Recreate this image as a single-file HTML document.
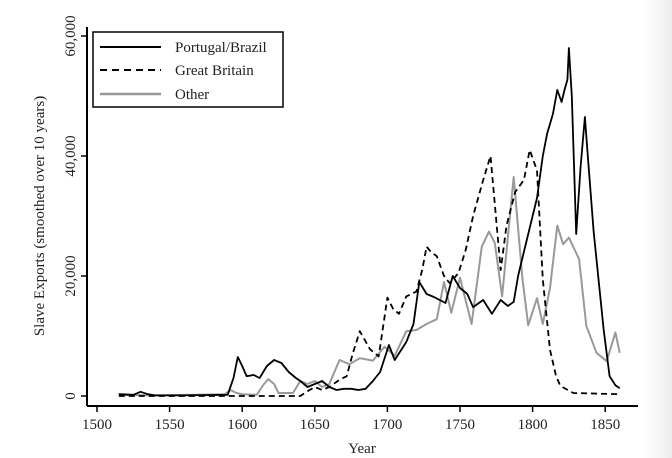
<!DOCTYPE html>
<html><head><meta charset="utf-8"><style>
html,body{margin:0;padding:0;background:#fff;}
svg{display:block;font-family:"Liberation Serif",serif;}
</style></head><body>
<svg width="672" height="458" viewBox="0 0 672 458">
<defs><linearGradient id="edge" x1="0" x2="1"><stop offset="0" stop-color="#fff"/><stop offset="1" stop-color="#ececec"/></linearGradient></defs>
<rect x="645" y="0" width="27" height="458" fill="url(#edge)"/>
<g id="axes"></g>
<g id="series"></g>
<g>
<rect x="93" y="32" width="190" height="75" fill="#fff" stroke="#000" stroke-width="1.5"/>
<line x1="100" y1="47" x2="161" y2="47" stroke="#000" stroke-width="2"/>
<text x="175" y="52" font-size="15" fill="#222">Portugal/Brazil</text>
<line x1="100" y1="70" x2="161" y2="70" stroke="#000" stroke-width="2" stroke-dasharray="7,5"/>
<text x="175" y="75" font-size="15" fill="#222">Great Britain</text>
<line x1="100" y1="94" x2="161" y2="94" stroke="#999" stroke-width="2.5"/>
<text x="175" y="99" font-size="15" fill="#222">Other</text>
</g>
</svg>
<script>
const xTicks=[1500,1550,1600,1650,1700,1750,1800,1850];
const yTicks=[0,20000,40000,60000];
const yTickLabels=["0","20,000","40,000","60,000"];
const portYears=[1515,1525,1530,1535,1540,1560,1590,1594,1597,1600,1603,1608,1612,1617,1622,1627,1632,1637,1640,1645,1650,1655,1660,1665,1670,1675,1680,1685,1690,1695,1701,1705,1713,1718,1722,1727,1732,1736,1740,1745,1750,1755,1759,1763,1766,1772,1778,1783,1787,1790,1793,1798,1803,1807,1810,1814,1817,1820,1822,1824,1825,1827,1830,1833,1836,1838,1842,1846,1849,1853,1857,1860];
const portVals=[300,200,700,300,100,100,200,3000,6500,5000,3300,3500,3000,5000,6000,5500,4000,3000,2500,1500,2000,2500,1500,1000,1200,1200,1000,1200,2500,4000,8500,6000,9000,12000,19000,17000,16500,16000,15500,20000,18000,17000,14800,15500,16000,13700,16000,15000,15700,20000,23000,28000,33000,40000,43700,47000,51000,49000,51000,52700,58000,50000,27000,38000,46500,40000,27500,18000,11000,3300,1800,1300];
const gbYears=[1515,1600,1640,1645,1650,1655,1660,1667,1672,1676,1681,1688,1694,1700,1704,1708,1713,1720,1724,1727,1730,1734,1739,1743,1749,1754,1759,1766,1771,1774,1778,1782,1788,1794,1798,1803,1807,1812,1816,1819,1828,1860];
const gbVals=[0,0,0,800,1500,1000,1500,2700,3300,7000,10800,7800,6600,16400,14500,13700,16600,17400,21000,24900,24000,23300,20000,18800,20500,24400,30000,36000,40000,32000,21000,28400,34000,36000,41000,37600,19400,7700,3500,1700,500,300];
const otherYears=[1515,1540,1570,1588,1592,1596,1600,1610,1615,1618,1622,1625,1635,1640,1645,1650,1655,1660,1667,1674,1681,1690,1698,1705,1713,1720,1727,1734,1739,1744,1750,1758,1765,1770,1774,1779,1787,1793,1797,1803,1807,1812,1817,1821,1825,1832,1837,1844,1851,1857,1860];
const otherVals=[200,100,200,300,1000,500,300,200,2000,2800,2000,500,500,2500,2000,2500,1500,2000,6000,5300,6300,5900,8200,6700,10800,11000,12000,12800,19000,13900,19700,12000,24900,27400,25500,16600,36500,19600,11800,16300,12000,18000,28400,25300,26400,22800,11700,7200,5800,10600,7200];

const NS="http://www.w3.org/2000/svg";
function X(yr){return 97+(yr-1500)*1.452;}
function Y(v){return 396-v*0.006;}
function mk(tag,attrs,parent){const e=document.createElementNS(NS,tag);for(const k in attrs)e.setAttribute(k,attrs[k]);parent.appendChild(e);return e;}
const axes=document.getElementById('axes');
let e=mk('line',{x1:87,y1:406,x2:638,y2:406,stroke:'#000','stroke-width':2},axes);


e=mk('line',{x1:87,y1:27,x2:87,y2:406,stroke:'#000','stroke-width':2},axes);


xTicks.forEach(t=>{
  const l=mk('line',{x1:X(t),y1:406,x2:X(t),y2:412,stroke:'#000','stroke-width':1.5},axes);
  
  
  const tx=mk('text',{x:X(t),y:429,'font-size':15,'text-anchor':'middle',fill:'#222'},axes);
  tx.textContent=t;
  
  
});
yTicks.forEach((t,i)=>{
  const l=mk('line',{x1:81,y1:Y(t),x2:87,y2:Y(t),stroke:'#000','stroke-width':1.5},axes);
  
  
  const tx=mk('text',{x:0,y:0,'font-size':15,'text-anchor':'middle',fill:'#222',transform:`translate(75,${Y(t)}) rotate(-90)`},axes);
  tx.textContent=yTickLabels[i];
  
  
});
e=mk('text',{x:0,y:0,'font-size':15,'text-anchor':'middle',fill:'#222',transform:'translate(44,216) rotate(-90)'},axes);
e.textContent='Slave Exports (smoothed over 10 years)';


e=mk('text',{x:362,y:453,'font-size':15,'text-anchor':'middle',fill:'#222'},axes);
e.textContent='Year';



const ser=document.getElementById('series');
function draw(yrs,vals,attrs,name){
  const d=yrs.map((y,i)=>(i?'L':'M')+X(y).toFixed(1)+','+Y(vals[i]).toFixed(1)).join(' ');
  const p=mk('path',Object.assign({d:d,fill:'none','stroke-linejoin':'round'},attrs),ser);
  
  
}
draw(otherYears,otherVals,{stroke:'#999','stroke-width':2},'line-other');
draw(gbYears,gbVals,{stroke:'#000','stroke-width':1.8,'stroke-dasharray':'6,4'},'line-great-britain');
draw(portYears,portVals,{stroke:'#000','stroke-width':1.8},'line-portugal-brazil');
</script>
</body></html>
